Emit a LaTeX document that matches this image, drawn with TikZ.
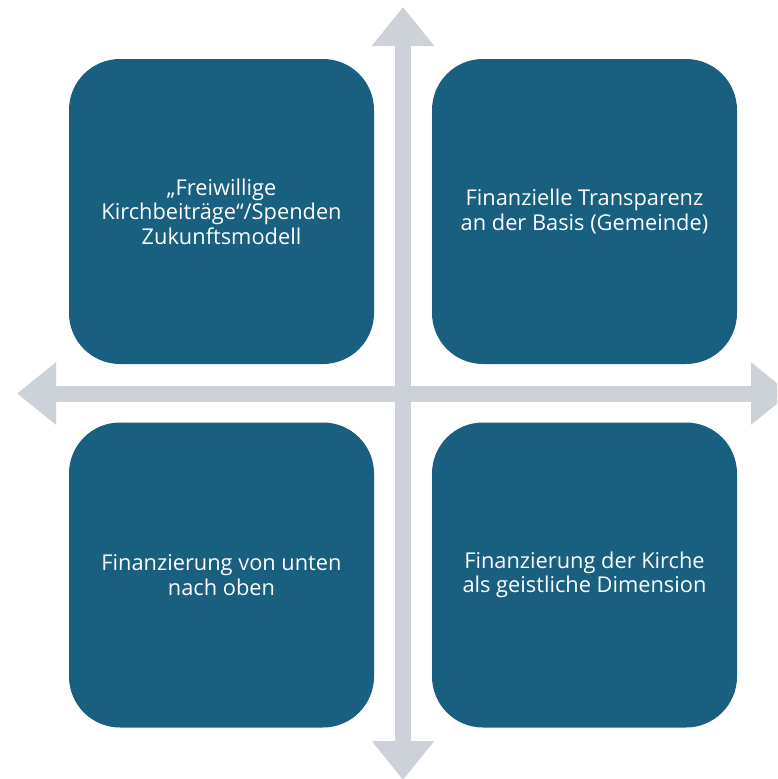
\documentclass[tikz,border=0pt]{standalone}
\usepackage{fontspec}
\setmainfont{Open Sans}
\usetikzlibrary{arrows.meta,positioning}
\definecolor{quadblue}{RGB}{24,95,128}
\definecolor{axisgray}{RGB}{205,209,216}

\tikzset{
  quad/.style={rectangle, rounded corners=51pt, fill=quadblue, text=white,
    minimum width=305pt, minimum height=305pt, align=center,
    font=\fontsize{21.8}{24.5}\selectfont, inner sep=0pt},
  axis/.style={draw=axisgray, line width=16pt,
    {Triangle[width=60pt,length=39pt]}-{Triangle[width=60pt,length=39pt]}}
}

\begin{document}
\begin{tikzpicture}[x=1pt,y=-1pt]
                \useasboundingbox (0,0) rectangle (777,779);
                \clip (0,0) rectangle (777,779);

                % Axes
                \coordinate (west) at (17,393.5);
                \coordinate (east) at (790,393.5);
                \coordinate (north) at (403,7);
                \coordinate (south) at (403,780);
                \draw[axis] (west) -- (east);
                \draw[axis] (north) -- (south);

                % Quadrants
                \node[quad] (freiwillig) at (221.5,211.5) {„Freiwillige\\Kirchbeiträge“/Spenden\\Zukunftsmodell};
                \node[quad] (transparenz) at (584.5,211.5) {Finanzielle Transparenz\\an der Basis (Gemeinde)};
                \node[quad] (untenoben) at (221.5,575) {Finanzierung von unten\\nach oben};
                \node[quad] (geistlich) at (584.5,575) {Finanzierung der Kirche\\als geistliche Dimension};
            \end{tikzpicture}
\end{document}
